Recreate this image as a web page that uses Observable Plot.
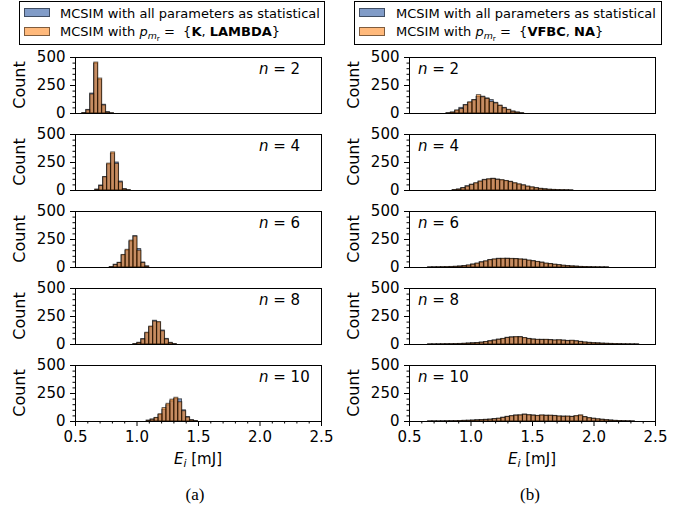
<!DOCTYPE html>
<html><head><meta charset="utf-8">
<script src="https://cdn.jsdelivr.net/npm/d3@7"></script>
<script src="https://cdn.jsdelivr.net/npm/@observablehq/plot@0.6"></script>
<style>
body{margin:0;background:#fff;}
#fig{position:relative;width:681px;height:508px;font-family:"DejaVu Sans",sans-serif;color:#000;overflow:hidden;}
.abs{position:absolute;white-space:nowrap;line-height:1;}
.count{font-size:16px;transform:translate(-50%,-50%) rotate(-90deg);}
.nlab{font-size:15px;transform:translateY(-50%);}
.xlab{font-size:15px;transform:translate(-50%,-50%);}
.cap{font-family:"Liberation Serif",serif;font-size:17px;transform:translate(-50%,-50%);}
.box{position:absolute;border:1px solid #000;box-sizing:border-box;background:#fff;}
.patch{position:absolute;box-sizing:border-box;border:1px solid rgba(0,0,0,0.5);}
.ltext{font-size:13px;transform:translateY(-50%);}
.sub{font-size:0.72em;position:relative;top:0.32em;}
.sub2{font-size:0.78em;position:relative;top:0.25em;}
</style></head><body><div id="fig"></div>
<script>
// ---------- data ----------
const xDomain = [0.5, 2.5];
const yDomain = [0, 500];
const yMajorTicks = [0, 250, 500];
const yMinorTicks = [50, 100, 150, 200, 300, 350, 400, 450];
const xMajorTicks = [0.5, 1.0, 1.5, 2.0, 2.5];
const xMinorTicks = [0.6, 0.7, 0.8, 0.9, 1.1, 1.2, 1.3, 1.4, 1.6, 1.7, 1.8, 1.9, 2.1, 2.2, 2.3, 2.4];
const nValues = [2, 4, 6, 8, 10];
const legendAll = "MCSIM with all parameters as statistical";
const legendSetA = ["K", "LAMBDA"];
const legendSetB = ["VFBC", "NA"];

// left column (a): bin start, bin width, counts
const leftBinWidth = 0.032;
const leftBlueStart = [0.555, 0.660, 0.778, 0.970, 1.078];
const leftOrangeStart = [0.557, 0.662, 0.780, 0.972, 1.080];
const leftN2Blue = [4, 32, 178, 445, 300, 78, 12, 2];
const leftN2Orange = [3, 28, 170, 455, 312, 72, 9, 2];
const leftN4Blue = [8, 45, 120, 232, 328, 250, 80, 12, 3];
const leftN4Orange = [6, 40, 118, 240, 340, 238, 72, 10, 2];
const leftN6Blue = [4, 25, 42, 108, 150, 232, 280, 165, 45, 10];
const leftN6Orange = [3, 22, 40, 112, 158, 240, 276, 150, 40, 8];
const leftN8Blue = [4, 15, 48, 100, 155, 212, 195, 125, 50, 15, 4];
const leftN8Orange = [3, 14, 45, 105, 160, 205, 200, 118, 45, 12, 3];
const leftN10Blue = [8, 18, 30, 58, 105, 145, 180, 200, 198, 100, 40, 12, 4];
const leftN10Orange = [6, 16, 32, 65, 120, 158, 195, 212, 172, 92, 35, 10, 3];

// right column (b)
const rightBinWidth = 0.035;
const rightBlueStart = [0.800, 0.850, 0.650, 0.650, 0.650];
const rightOrangeStart = [0.803, 0.853, 0.653, 0.653, 0.653];
const rightN2Blue = [3, 8, 25, 50, 75, 95, 120, 148, 150, 135, 120, 95, 70, 50, 30, 18, 8, 3];
const rightN2Orange = [2, 9, 27, 40, 73, 100, 118, 164, 145, 130, 103, 90, 68, 46, 33, 16, 9, 2];
const rightN4Blue = [4, 9, 22, 38, 52, 62, 78, 95, 98, 105, 98, 90, 82, 78, 62, 52, 46, 33, 26, 21, 14, 11, 6, 5, 4, 2, 2, 1];
const rightN4Orange = [3, 8, 20, 35, 50, 65, 80, 92, 100, 102, 95, 92, 85, 75, 65, 55, 45, 35, 28, 20, 15, 10, 7, 5, 3, 3, 2, 1];
const rightN6Blue = [1, 2, 2, 3, 3, 5, 6, 9, 13, 17, 27, 33, 47, 53, 67, 70, 78, 75, 79, 74, 76, 70, 70, 60, 57, 48, 44, 33, 31, 24, 21, 15, 13, 9, 8, 5, 4, 3, 2, 1, 1, 1];
const rightN6Orange = [1, 1, 2, 2, 3, 4, 6, 8, 12, 18, 25, 35, 45, 55, 65, 72, 75, 78, 76, 77, 74, 72, 68, 62, 55, 50, 42, 35, 30, 25, 20, 16, 12, 10, 7, 5, 4, 3, 2, 2, 1, 1];
const rightN8Blue = [1, 1, 2, 2, 3, 3, 4, 5, 6, 9, 11, 13, 17, 21, 30, 36, 44, 48, 60, 64, 63, 66, 55, 50, 45, 40, 42, 40, 40, 35, 36, 35, 32, 31, 29, 24, 17, 15, 11, 10, 7, 6, 5, 3, 3, 2, 1, 1, 1];
const rightN8Orange = [1, 1, 1, 2, 2, 3, 3, 4, 6, 8, 10, 12, 16, 22, 28, 35, 42, 50, 58, 62, 66, 64, 58, 48, 44, 42, 40, 42, 38, 36, 38, 34, 30, 34, 28, 22, 18, 14, 12, 10, 8, 6, 5, 4, 3, 2, 2, 1, 1];
const rightN10Blue = [1, 1, 1, 2, 2, 3, 3, 4, 6, 7, 8, 11, 12, 15, 17, 22, 24, 34, 42, 46, 54, 53, 62, 55, 54, 48, 52, 52, 50, 50, 43, 44, 42, 42, 45, 50, 40, 28, 25, 18, 16, 11, 9, 5, 4, 3, 2, 1];
const rightN10Orange = [1, 1, 1, 1, 2, 2, 3, 4, 5, 6, 8, 10, 12, 14, 16, 20, 25, 32, 40, 48, 52, 55, 60, 56, 52, 50, 54, 50, 52, 48, 45, 42, 44, 40, 48, 55, 38, 30, 24, 20, 15, 12, 8, 6, 4, 3, 2, 1];

const leftBlue = [leftN2Blue, leftN4Blue, leftN6Blue, leftN8Blue, leftN10Blue];
const leftOrange = [leftN2Orange, leftN4Orange, leftN6Orange, leftN8Orange, leftN10Orange];
const rightBlue = [rightN2Blue, rightN4Blue, rightN6Blue, rightN8Blue, rightN10Blue];
const rightOrange = [rightN2Orange, rightN4Orange, rightN6Orange, rightN8Orange, rightN10Orange];

// ---------- drawing ----------
const BLUE = "#4c72b0", ORANGE = "#ff7f0e";
const fig = document.getElementById("fig");
const panelTop0 = 57, panelStep = 77, innerH = 56;

function rows(start, w, vals) {
  return vals.map((v, i) => ({x1: start + i * w, x2: start + (i + 1) * w, y: v}));
}
function addHTML(cls, left, top, html, extra) {
  const d = document.createElement("div");
  d.className = "abs " + cls;
  d.style.left = left + "px"; d.style.top = top + "px";
  if (extra) Object.assign(d.style, extra);
  d.innerHTML = html;
  fig.appendChild(d);
  return d;
}

function panel(col, k) {
  const bottom = k === 4;
  const mt = 10, mb = bottom ? 34 : 6;
  const offX = col === 0 ? 0 : 340;
  const width = col === 0 ? 340 : 341;
  const ml = col === 0 ? 75 : 69;
  const mr = width - ml - 246;
  const w = col === 0 ? leftBinWidth : rightBinWidth;
  const bStart = col === 0 ? leftBlueStart[k] : rightBlueStart[k];
  const oStart = col === 0 ? leftOrangeStart[k] : rightOrangeStart[k];
  const bVals = col === 0 ? leftBlue[k] : rightBlue[k];
  const oVals = col === 0 ? leftOrange[k] : rightOrange[k];
  const barStyle = {x1: "x1", x2: "x2", y1: 0, y2: "y", stroke: "#000", strokeOpacity: 0.6, strokeWidth: 1};
  const marks = [
    Plot.rect(rows(bStart, w, bVals), {...barStyle, fill: BLUE, fillOpacity: 0.7}),
    Plot.rect(rows(oStart, w, oVals), {...barStyle, fill: ORANGE, fillOpacity: 0.55}),
    Plot.frame({stroke: "#000", strokeWidth: 1}),
    Plot.axisY({ticks: yMajorTicks, tickSize: 5, tickPadding: 5, fontSize: 15, label: null, tickFormat: d => String(d)}),
    Plot.axisY({ticks: yMinorTicks, tickSize: 2.5, tickFormat: () => "", label: null})
  ];
  if (bottom) {
    marks.push(
      Plot.axisX({ticks: xMajorTicks, tickSize: 5, tickPadding: 5, fontSize: 15, label: null, tickFormat: d3.format(".1f")}),
      Plot.axisX({ticks: xMinorTicks, tickSize: 2.5, tickFormat: () => "", label: null})
    );
  }
  const svg = Plot.plot({
    width, height: mt + innerH + mb,
    marginTop: mt, marginBottom: mb, marginLeft: ml, marginRight: mr,
    x: bottom ? {domain: xDomain} : {domain: xDomain, axis: null},
    y: {domain: yDomain},
    style: {fontFamily: "DejaVu Sans", fontSize: "15px", color: "#000", background: "none", overflow: "visible"},
    marks
  });
  svg.style.position = "absolute";
  svg.style.left = offX + "px";
  const top = panelTop0 + panelStep * k;
  svg.style.top = (top - mt) + "px";
  fig.appendChild(svg);

  // Count label
  addHTML("count", col === 0 ? 20 : 354, top + innerH / 2, "Count");
  // n label
  addHTML("nlab", col === 0 ? 259 : 418, top + 12, `<i>n</i> = ${nValues[k]}`);
}

for (let col = 0; col < 2; col++) for (let k = 0; k < 5; k++) panel(col, k);

// x labels and captions
addHTML("xlab", 198, 459, `<i>E</i><span class="sub"><i>i</i></span> [mJ]`);
addHTML("xlab", 532, 459, `<i>E</i><span class="sub"><i>i</i></span> [mJ]`);
addHTML("cap", 195, 494, "(a)");
addHTML("cap", 530, 494, "(b)");

// legends
function legend(left, width, patchLeft, textLeft, set) {
  const box = document.createElement("div");
  box.className = "box";
  Object.assign(box.style, {left: left + "px", top: "1px", width: width + "px", height: "44px"});
  fig.appendChild(box);
  const p1 = document.createElement("div");
  p1.className = "patch";
  Object.assign(p1.style, {left: patchLeft + "px", top: "8px", width: "26px", height: "9px", background: "rgba(76,114,176,0.7)"});
  fig.appendChild(p1);
  const p2 = document.createElement("div");
  p2.className = "patch";
  Object.assign(p2.style, {left: patchLeft + "px", top: "27px", width: "26px", height: "9px", background: "rgba(255,127,14,0.55)"});
  fig.appendChild(p2);
  addHTML("ltext", textLeft, 13, legendAll);
  addHTML("ltext", textLeft, 31,
    `MCSIM with <i>p</i><span class="sub"><i>m</i><span class="sub2">r</span></span> =&nbsp; {<b>${set[0]}</b>, <b>${set[1]}</b>}`);
}
legend(19, 306, 24, 60, legendSetA);
legend(354, 308, 359, 396, legendSetB);
</script></body></html>
